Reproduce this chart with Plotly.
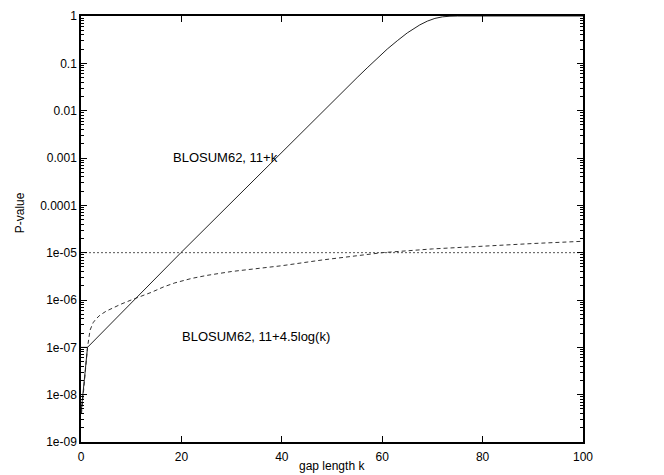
import plotly.graph_objects as go

# Solid curve: BLOSUM62, 11+k
solid_k = [0, 1.3, 19.9, 38.8, 50, 55, 57, 59, 61, 63, 65, 67.5, 69, 70.5, 72, 73.5, 75, 100]
solid_p = [4e-9, 1e-7, 1e-5, 1e-3, 1.5e-2, 5e-2, 8e-2, 0.127, 0.2, 0.3, 0.44, 0.65, 0.78, 0.89, 0.96, 0.99, 1.0, 1.0]

# Short horizontal piece near the origin
flat_k = [0, 1.3]
flat_p = [1e-7, 1e-7]

# Dashed curve: BLOSUM62, 11+4.5log(k)
dash_k = [0.1, 1.3, 1.8, 2.4, 3.0, 3.8, 5, 6.5, 8, 10, 11.75, 14, 16.5, 18.7, 22, 25, 30, 35, 40, 48, 55, 60, 70, 80, 90, 100]
dash_p = [4e-9, 1e-7, 2.3e-7, 3.3e-7, 4.0e-7, 4.8e-7, 5.8e-7, 7.0e-7, 8.2e-7, 1.0e-6, 1.17e-6, 1.45e-6, 1.9e-6, 2.3e-6, 2.85e-6, 3.3e-6, 4.0e-6, 4.6e-6, 5.3e-6, 7.0e-6, 8.6e-6, 1e-5, 1.2e-5, 1.38e-5, 1.56e-5, 1.74e-5]

# Dotted threshold
thr_k = [0, 100]
thr_p = [1e-5, 1e-5]

y_tickvals = [1e-9, 1e-8, 1e-7, 1e-6, 1e-5, 1e-4, 1e-3, 1e-2, 1e-1, 1]
y_ticktext = ["1e-09", "1e-08", "1e-07", "1e-06", "1e-05", "0.0001", "0.001", "0.01", "0.1", "1"]
x_tickvals = [0, 20, 40, 60, 80, 100]

label_solid = "BLOSUM62, 11+k"
label_dash = "BLOSUM62, 11+4.5log(k)"
x_title = "gap length k"
y_title = "P-value"

fig = go.Figure()
fig.add_trace(go.Scatter(x=thr_k, y=thr_p, mode="lines",
                         line=dict(color="#555555", width=1, dash="2px,2px"), showlegend=False))
fig.add_trace(go.Scatter(x=dash_k, y=dash_p, mode="lines",
                         line=dict(color="#333333", width=1, dash="4px,3px"), showlegend=False))
fig.add_trace(go.Scatter(x=flat_k, y=flat_p, mode="lines",
                         line=dict(color="#444444", width=1), showlegend=False))
fig.add_trace(go.Scatter(x=solid_k, y=solid_p, mode="lines",
                         line=dict(color="#222222", width=1), showlegend=False))

fig.add_annotation(x=28.7, y=-2.98, text=label_solid, showarrow=False,
                   font=dict(size=13, color="black"))
fig.add_annotation(x=34.9, y=-6.77, text=label_dash, showarrow=False,
                   font=dict(size=13, color="black"))
fig.add_annotation(x=0.5, y=0, xref="paper", yref="paper", yanchor="top",
                   text=x_title, showarrow=False, yshift=-15, font=dict(size=12, color="black"))
fig.add_annotation(x=-61 / 502, y=0.537, xref="paper", yref="paper", xanchor="center",
                   text=y_title, textangle=-90, showarrow=False, font=dict(size=12, color="black"))

fig.update_layout(
    width=664, height=475,
    margin=dict(l=81, r=81, t=16, b=33),
    paper_bgcolor="white", plot_bgcolor="white",
    font=dict(family="Liberation Sans, Arial, sans-serif", size=12, color="black"),
)
fig.update_xaxes(
    range=[0, 100], tickvals=x_tickvals, ticks="inside", ticklen=6, tickcolor="black",
    showline=True, linecolor="black", linewidth=1.5, mirror="allticks",
    showgrid=False, zeroline=False, automargin=False, ticklabelstandoff=3,
    tickfont=dict(size=12),
)
fig.update_yaxes(
    type="log", range=[-9, 0], tickvals=y_tickvals, ticktext=y_ticktext,
    ticks="inside", ticklen=6, tickcolor="black",
    minor=dict(ticks="inside", ticklen=3, dtick="D1", tickcolor="black", showgrid=False),
    showline=True, linecolor="black", linewidth=1.5, mirror="allticks",
    showgrid=False, zeroline=False, automargin=False,
    tickfont=dict(size=12),
)

fig.write_html("out.html")
